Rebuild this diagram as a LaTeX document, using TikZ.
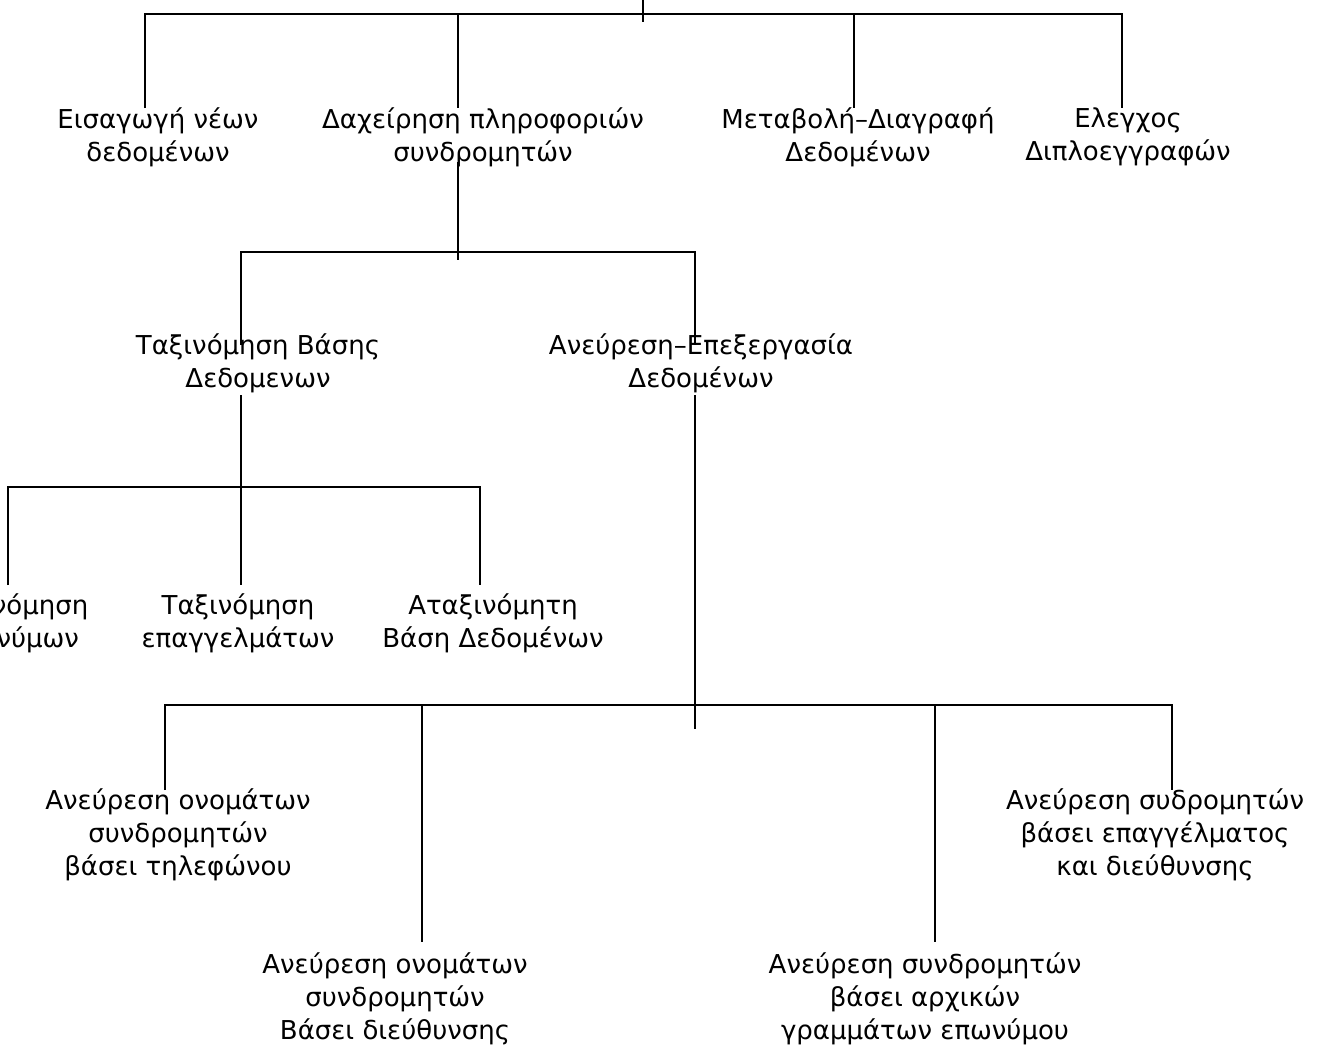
\documentclass[tikz,border=0pt]{standalone}
\usepackage{fontspec}
\setmainfont{DejaVu Sans}

\begin{document}
\begin{tikzpicture}[x=0.5pt,
            y=-0.5pt,
            line width=1.45pt,
            every node/.style={align=center,
                               inner sep=0pt,
                               font=\fontsize{13}{16.5}\selectfont}]

        \useasboundingbox (0,0) rectangle (1318,1046);

        \node (eisagogi)   at (158,137)  {Εισαγωγή νέων\\δεδομένων};
        \node (diaxeirisi) at (483,137)  {Δαχείρηση πληροφοριών\\συνδρομητών};
        \node (metavoli)   at (858,137)  {Μεταβολή–Διαγραφή\\Δεδομένων};
        \node (elegxos)    at (1128,137) {Ελεγχος\\Διπλοεγγραφών};

        \node (taxvasis)   at (258,363)  {Ταξινόμηση Βάσης\\Δεδομενων};
        \node (aneuresi)   at (701,363)  {Ανεύρεση–Επεξεργασία\\Δεδομένων};

        \node (taxeponymon) at (12,623)  {Ταξινόμηση\\επωνύμων};
        \node (taxepag)    at (238,623)  {Ταξινόμηση\\επαγγελμάτων};
        \node (ataxin)     at (493,623)  {Αταξινόμητη\\Βάση Δεδομένων};

        \node (tilefonou)  at (178,835)  {Ανεύρεση ονομάτων\\συνδρομητών\\βάσει τηλεφώνου};
        \node (dieuthyn)   at (395,999)  {Ανεύρεση ονομάτων\\συνδρομητών\\Βάσει διεύθυνσης};
        \node (arxikon)    at (925,999)  {Ανεύρεση συνδρομητών\\βάσει αρχικών\\γραμμάτων επωνύμου};
        \node (epaggelm)   at (1155,835) {Ανεύρεση συδρομητών\\βάσει επαγγέλματος\\και διεύθυνσης};

        \coordinate (root) at (643,-2);
        \coordinate (hub1) at (643,14);
        \coordinate (d1) at (145,108);
        \coordinate (d2) at (458,108);
        \coordinate (d3) at (854,108);
        \coordinate (d4) at (1122,108);

        \coordinate (u2)   at (458,162);
        \coordinate (hub2) at (458,252);
        \coordinate (d21)  at (241,345);
        \coordinate (d22)  at (695,345);

        \coordinate (u21)  at (241,395);
        \coordinate (hub3) at (241,487);
        \coordinate (d31)  at (8,585);
        \coordinate (d32)  at (241,585);
        \coordinate (d33)  at (480,585);

        \coordinate (u22)  at (695,395);
        \coordinate (hub4) at (695,705);
        \coordinate (d41)  at (165,790);
        \coordinate (d42)  at (422,942);
        \coordinate (d43)  at (935,942);
        \coordinate (d44)  at (1172,790);

        \draw (root) -- ([yshift=-4pt]hub1);
        \draw (d1) |- (hub1) -| (d4);
        \draw (hub1 -| d2) -- (d2);
        \draw (hub1 -| d3) -- (d3);

        \draw (u2) -- ([yshift=-4pt]hub2);
        \draw (d21) |- (hub2) -| (d22);

        \draw (u21) -- (hub3);
        \draw (d31) |- (hub3) -| (d33);
        \draw (hub3) -- (d32);

        \draw (u22) -- ([yshift=-12pt]hub4);
        \draw (d41) |- (hub4) -| (d44);
        \draw (hub4 -| d42) -- (d42);
        \draw (hub4 -| d43) -- (d43);

    \end{tikzpicture}
\end{document}
